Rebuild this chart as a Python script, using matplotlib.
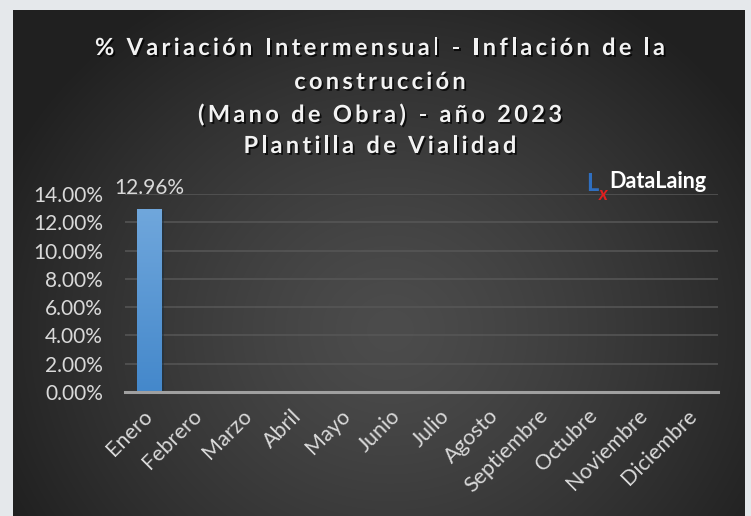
import matplotlib
matplotlib.use("Agg")
import matplotlib.pyplot as plt
import numpy as np
from matplotlib import patheffects as pe
from matplotlib.font_manager import FontProperties

# data (only Enero reported so far)
months = ["Enero", "Febrero", "Marzo", "Abril", "Mayo", "Junio", "Julio",
          "Agosto", "Septiembre", "Octubre", "Noviembre", "Diciembre"]
values = [12.96, np.nan, np.nan, np.nan, np.nan, np.nan, np.nan,
          np.nan, np.nan, np.nan, np.nan, np.nan]
y_ticks = [0, 2, 4, 6, 8, 10, 12, 14]
title_lines = ["% Variación Intermensual - Inflación de la",
               "construcción",
               "(Mano de Obra) - año 2023",
               "Plantilla de Vialidad"]

W, H = 751, 516
FONT = ["Lato", "DejaVu Sans"]
TXT = "#d9d9d9"

fig = plt.figure(figsize=(W / 100, H / 100), dpi=100)
fig.patch.set_facecolor("#e5e8eb")


def fx(px):
    return px / W


def fy(py):
    return 1 - py / H


# dark panel with a radial gradient
bg = fig.add_axes([fx(13), 0, fx(745) - fx(13), fy(10)])
gx, gy = np.meshgrid(np.arange(13, 745), np.arange(10, 516))
r = np.hypot(gx - 390, (gy - 330) * 1.1) / 430
shade = 0x4c - (0x4c - 0x20) * np.clip(r, 0, 1) ** 1.3
img = np.dstack([shade, shade, shade]) / 255
bg.imshow(img, aspect="auto", interpolation="bilinear")
bg.set_axis_off()
bg.set_zorder(0)

ax = fig.add_axes([fx(125), fy(392), fx(718) - fx(125), fy(194) - fy(392)])
ax.set_zorder(1)
ax.patch.set_visible(False)

x = np.arange(len(months))
bars = ax.bar(x, values, width=0.5, color="#5b9bd5", zorder=2)

# vertical gradient inside each bar
grad = np.linspace(0, 1, 100).reshape(-1, 1)
top_c = np.array([0x70, 0xa7, 0xdc]) / 255
bot_c = np.array([0x44, 0x88, 0xcb]) / 255
grad_img = top_c * (1 - grad[..., None]) + bot_c * grad[..., None]
for b, v in zip(bars, values):
    if np.isnan(v):
        continue
    b.set_path_effects([pe.SimplePatchShadow(offset=(1.5, -1.5), alpha=0.5), pe.Normal()])
    im = ax.imshow(grad_img, extent=[b.get_x(), b.get_x() + b.get_width(), 0, v],
                   aspect="auto", zorder=3)
    im.set_clip_path(b)
    ax.annotate(f"{v:.2f}%", (b.get_x() + b.get_width() / 2, v), xytext=(0, 8),
                textcoords="offset points", ha="center", va="bottom",
                fontsize=15, color=TXT, family=FONT)

ax.set_xlim(-0.5, len(months) - 0.5)
ax.set_ylim(0, 14)
ax.set_yticks(y_ticks)
ax.set_yticklabels([f"{t:.2f}%" for t in y_ticks], fontsize=15, color=TXT, family=FONT)
ax.set_xticks(x)
ax.set_xticklabels(months, rotation=45, ha="right", va="center", rotation_mode="anchor",
                   fontsize=15.5, color=TXT, family=FONT)
ax.tick_params(axis="both", length=0)
ax.tick_params(axis="x", pad=15)
ax.tick_params(axis="y", pad=16)
ax.yaxis.grid(True, color="#575757", lw=1.1)
ax.set_axisbelow(True)
for s in ["top", "right", "left"]:
    ax.spines[s].set_visible(False)
ax.spines["bottom"].set_color("#a0a0a0")
ax.spines["bottom"].set_linewidth(2.2)
ax.spines["bottom"].set_zorder(4)

# title with wide letter spacing
renderer = fig.canvas.get_renderer()
tprop = FontProperties(family=FONT, weight="bold", size=17)


def char_w(c):
    w1 = renderer.get_text_width_height_descent("|" + c + "|", tprop, ismath=False)[0]
    w0 = renderer.get_text_width_height_descent("||", tprop, ismath=False)[0]
    return w1 - w0


def spaced_width(s, sp):
    return sum(char_w(c) for c in s) + sp * (len(s) - 1)


natural = spaced_width(title_lines[0], 0)
spacing = (570 - natural) / (len(title_lines[0]) - 1)
shadow = [pe.withSimplePatchShadow(offset=(1.3, -1.3), shadow_rgbFace="black", alpha=0.75)]
baselines = [55, 89, 122, 153]
for line, yb in zip(title_lines, baselines):
    total = spaced_width(line, spacing)
    xpos = 380 - total / 2
    for c in line:
        if c != " ":
            fig.text(fx(xpos), fy(yb), c, fontproperties=tprop, color="#f2f2f2",
                     ha="left", va="baseline", path_effects=shadow, zorder=5)
        xpos += char_w(c) + spacing

# logo
fig.text(fx(586), fy(191), "L", family=FONT, weight="bold", fontsize=17,
         color="#2f6fc0", ha="left", va="baseline", zorder=5)
fig.text(fx(598.5), fy(200), "x", family=FONT, weight="bold", style="italic", fontsize=13,
         color="#e02020", ha="left", va="baseline", zorder=6)
fig.text(fx(609), fy(188), "DataLaing", family=FONT, weight="bold", fontsize=15.5,
         color="white", ha="left", va="baseline", zorder=5)

fig.savefig("out.png", dpi=100, facecolor=fig.get_facecolor())
